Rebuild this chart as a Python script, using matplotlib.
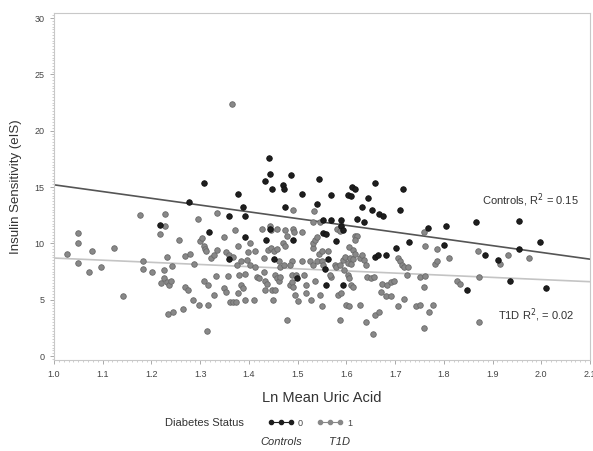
import numpy as np
import matplotlib
matplotlib.use('Agg')
import matplotlib.pyplot as plt
from matplotlib.lines import Line2D
from matplotlib.ticker import MultipleLocator

plt.rcParams['font.family'] = ['Liberation Sans', 'DejaVu Sans']

# Controls (Diabetes Status = 0)
ctrl_x = [1.217, 1.278, 1.307, 1.318, 1.359, 1.360, 1.378, 1.388, 1.393, 1.391,
          1.432, 1.436, 1.442, 1.444, 1.444, 1.447, 1.452, 1.469, 1.473, 1.474,
          1.486, 1.490, 1.498, 1.509, 1.539, 1.544, 1.552, 1.552, 1.559, 1.556,
          1.559, 1.562, 1.568, 1.569, 1.578, 1.589, 1.589, 1.593, 1.593, 1.604,
          1.610, 1.611, 1.618, 1.622, 1.637, 1.633, 1.645, 1.652, 1.659, 1.659,
          1.664, 1.681, 1.668, 1.676, 1.701, 1.710, 1.717, 1.728, 1.767, 1.800,
          1.805, 1.847, 1.867, 1.884, 1.911, 1.935, 1.954, 1.954, 1.998, 2.010]
ctrl_y = [11.6, 13.7, 15.4, 11.0, 12.4, 8.6, 14.4, 13.2, 12.4, 10.6,
          15.5, 10.3, 17.6, 16.2, 11.3, 14.8, 8.6, 15.2, 14.8, 13.2,
          16.1, 10.3, 6.9, 14.4, 13.5, 15.7, 12.1, 10.9, 10.8, 7.7,
          6.3, 8.6, 12.1, 14.3, 10.2, 12.1, 11.5, 11.2, 6.3, 14.3,
          14.2, 15.0, 14.8, 12.2, 11.9, 13.2, 14.0, 13.0, 15.4, 8.8,
          9.0, 9.0, 12.6, 12.4, 9.6, 13.0, 14.8, 10.1, 11.4, 9.9,
          11.5, 5.9, 11.9, 9.0, 8.5, 6.7, 12.0, 9.5, 10.1, 6.0]

# T1D (Diabetes Status = 1)
t1d_x = [1.026, 1.049, 1.049, 1.049, 1.071, 1.078, 1.096, 1.123, 1.141, 1.176,
         1.182, 1.182, 1.201, 1.217, 1.228, 1.228, 1.232, 1.225, 1.220, 1.226,
         1.232, 1.236, 1.240, 1.242, 1.234, 1.244, 1.257, 1.264, 1.268, 1.279,
         1.268, 1.276, 1.285, 1.288, 1.295, 1.297, 1.300, 1.304, 1.307, 1.310,
         1.312, 1.308, 1.317, 1.314, 1.316, 1.323, 1.329, 1.335, 1.332, 1.329,
         1.335, 1.349, 1.353, 1.360, 1.367, 1.349, 1.352, 1.358, 1.362, 1.368,
         1.374, 1.371, 1.366, 1.376, 1.383, 1.384, 1.388, 1.377, 1.392, 1.378,
         1.379, 1.398, 1.396, 1.403, 1.393, 1.403, 1.411, 1.412, 1.412, 1.417,
         1.420, 1.427, 1.430, 1.430, 1.434, 1.437, 1.434, 1.440, 1.446, 1.451,
         1.457, 1.444, 1.446, 1.450, 1.457, 1.461, 1.464, 1.471, 1.454, 1.457,
         1.461, 1.447, 1.454, 1.464, 1.469, 1.474, 1.478, 1.474, 1.478, 1.484,
         1.488, 1.484, 1.488, 1.488, 1.491, 1.494, 1.490, 1.493, 1.496, 1.490,
         1.501, 1.508, 1.508, 1.513, 1.518, 1.518, 1.527, 1.532, 1.532, 1.535,
         1.539, 1.532, 1.545, 1.534, 1.525, 1.532, 1.539, 1.535, 1.545, 1.549,
         1.543, 1.549, 1.562, 1.549, 1.552, 1.569, 1.566, 1.576, 1.579, 1.586,
         1.581, 1.586, 1.589, 1.583, 1.589, 1.586, 1.593, 1.598, 1.603, 1.607,
         1.610, 1.613, 1.596, 1.603, 1.606, 1.600, 1.606, 1.606, 1.613, 1.618,
         1.617, 1.622, 1.617, 1.610, 1.613, 1.627, 1.633, 1.637, 1.640, 1.629,
         1.642, 1.650, 1.657, 1.640, 1.654, 1.659, 1.667, 1.671, 1.681, 1.674,
         1.684, 1.691, 1.698, 1.705, 1.711, 1.715, 1.718, 1.718, 1.705, 1.725,
         1.727, 1.691, 1.742, 1.751, 1.778, 1.769, 1.760, 1.752, 1.762, 1.759,
         1.760, 1.762, 1.786, 1.810, 1.781, 1.785, 1.827, 1.833, 1.871, 1.873,
         1.873, 1.915, 1.932, 1.974]
t1d_y = [9.1, 10.9, 10.0, 8.3, 7.5, 9.3, 7.9, 9.6, 5.3, 12.5,
         8.4, 7.7, 7.5, 10.8, 12.6, 11.5, 8.8, 7.6, 6.5, 6.9,
         6.6, 6.3, 6.7, 8.0, 3.7, 3.9, 10.3, 4.2, 8.9, 9.1,
         6.1, 5.9, 5.0, 8.2, 12.2, 4.5, 10.2, 10.5, 9.8, 9.5,
         9.3, 6.7, 6.3, 2.2, 4.5, 8.7, 9.0, 9.4, 7.1, 5.4,
         12.7, 10.6, 9.2, 9.0, 8.8, 6.0, 5.7, 7.1, 4.8, 4.8,
         4.8, 11.2, 22.4, 8.1, 8.4, 6.3, 6.0, 5.6, 5.0, 9.8,
         7.2, 9.2, 8.5, 8.1, 7.3, 10.0, 5.0, 9.3, 7.9, 7.0,
         6.9, 11.3, 8.7, 7.5, 6.7, 6.4, 5.9, 9.4, 9.6, 9.3,
         9.5, 11.5, 11.2, 5.0, 11.3, 8.4, 7.9, 8.1, 7.2, 6.9,
         6.7, 5.9, 5.9, 7.0, 10.0, 11.2, 10.7, 9.8, 3.2, 6.3,
         8.4, 8.1, 7.2, 6.6, 6.1, 5.4, 11.3, 11.0, 7.2, 13.0,
         4.9, 8.4, 11.0, 7.2, 6.3, 5.6, 5.0, 9.6, 10.0, 10.3,
         10.6, 11.9, 11.9, 12.9, 8.4, 8.1, 8.4, 6.7, 5.4, 4.4,
         9.1, 9.3, 9.3, 8.4, 8.1, 7.0, 7.2, 8.1, 7.9, 8.1,
         11.3, 11.1, 11.6, 5.4, 5.6, 3.2, 8.5, 8.8, 8.3, 8.7,
         8.2, 8.6, 7.6, 7.2, 6.9, 4.5, 4.4, 9.7, 9.4, 9.1,
         10.7, 10.7, 10.3, 6.3, 6.1, 8.7, 9.0, 8.5, 8.1, 4.5,
         7.0, 6.9, 7.0, 3.0, 2.0, 3.6, 3.9, 5.7, 5.3, 6.4,
         6.3, 6.6, 6.7, 8.7, 8.4, 8.1, 7.9, 5.1, 4.4, 7.2,
         7.9, 5.3, 4.4, 4.5, 4.5, 3.9, 2.5, 7.0, 7.1, 6.1,
         11.0, 9.8, 9.5, 8.7, 8.2, 8.4, 6.7, 6.4, 9.3, 7.0,
         3.0, 8.2, 9.0, 8.7]

# regression lines (end points)
fit_x = [1.0, 2.1]
ctrl_fit = [15.2, 8.6]
t1d_fit = [8.7, 6.6]

fig = plt.figure(figsize=(5.93, 4.51), dpi=100)
ax = fig.add_axes([54/593, 1-360/451, 536/593, 347/451])

ax.scatter(t1d_x, t1d_y, s=16, c='#888888', edgecolors='#6a6a6a', linewidths=0.6, zorder=3)
ax.scatter(ctrl_x, ctrl_y, s=16, c='#1e1e1e', edgecolors='#111111', linewidths=0.6, zorder=4)
ax.plot(fit_x, ctrl_fit, color='#555555', lw=1.2, zorder=2)
ax.plot(fit_x, t1d_fit, color='#c4c4c4', lw=1.2, zorder=2)

ax.text(2.078, 13.85, 'Controls, R$^2$ = 0.15', ha='right', va='center',
        fontsize=8, color='#333333')
ax.text(2.068, 3.6, 'T1D R$^2$, = 0.02', ha='right', va='center',
        fontsize=8, color='#333333')

ax.set_xlim(1.0, 2.1)
ax.set_ylim(-0.35, 30.45)
ax.xaxis.set_major_locator(MultipleLocator(0.1))
ax.xaxis.set_minor_locator(MultipleLocator(0.01))
ax.yaxis.set_major_locator(MultipleLocator(5))
ax.yaxis.set_minor_locator(MultipleLocator(0.25))
ax.xaxis.set_major_formatter(plt.FuncFormatter(lambda v, p: '{:.1f}'.format(v)))
ax.tick_params(which='major', length=3, width=0.7, color='#aaaaaa', labelsize=6.5,
               labelcolor='#444444', pad=4)
ax.tick_params(which='minor', length=1.5, width=0.5, color='#bbbbbb')
for sp in ax.spines.values():
    sp.set_color('#c8c8c8')
    sp.set_linewidth(0.8)

ax.set_xlabel('Ln Mean Uric Acid', fontsize=10.5, color='#333333', labelpad=9)
ax.set_ylabel('Insulin Sensitivity (eIS)', fontsize=9.5, color='#333333', labelpad=9)

# legend
fig.text(165/593, 1-423/451, 'Diabetes Status', fontsize=8, color='#333333',
         ha='left', va='center')
handles = [Line2D([], [], color='#1e1e1e', marker='o', markersize=3, lw=0.8),
           Line2D([], [], color='#888888', marker='o', markersize=3, lw=0.8)]
fig.legend(handles, ['0', '1'], loc='center left', bbox_to_anchor=(268/593, 1-423/451),
           ncol=2, frameon=False, fontsize=6.5, numpoints=3, handlelength=2.8,
           handletextpad=0.5, columnspacing=1.6, borderpad=0, borderaxespad=0,
           labelcolor='#444444')
fig.text(281/593, 1-442/451, 'Controls', fontsize=8, style='italic', color='#333333',
         ha='center', va='center')
fig.text(340/593, 1-442/451, 'T1D', fontsize=8, style='italic', color='#333333',
         ha='center', va='center')

fig.savefig('out.png', dpi=100)
